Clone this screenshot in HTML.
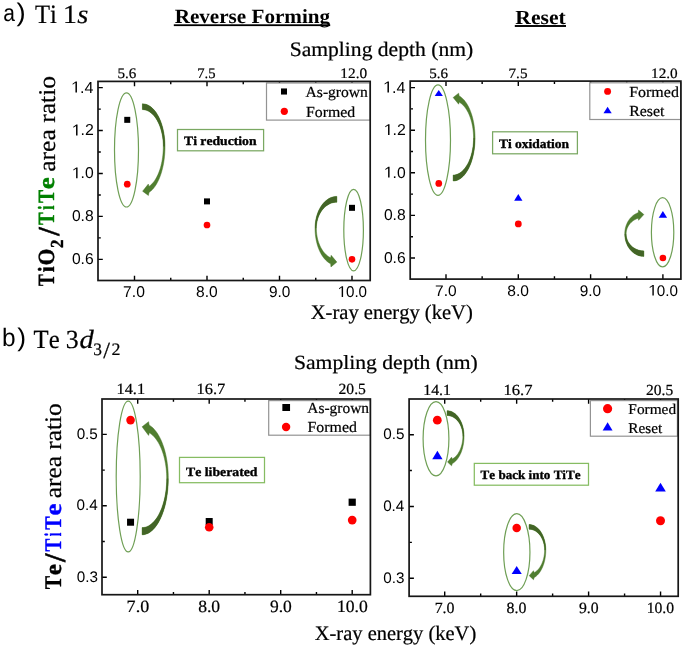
<!DOCTYPE html>
<html><head><meta charset="utf-8"><style>
html,body{margin:0;padding:0;background:#fff;}
svg{display:block;will-change:transform;}
text{font-kerning:none;font-variant-ligatures:none;}
</style></head><body>
<svg text-rendering="geometricPrecision" width="685" height="648" viewBox="0 0 685 648">
<rect width="685" height="648" fill="#fff"/>
<path d="M134.50,280.50v-4.8M134.50,81.40v4.8M207.00,280.50v-4.8M207.00,81.40v4.8M279.50,280.50v-4.8M279.50,81.40v4.8M352.00,280.50v-4.8M352.00,81.40v4.8M170.75,280.50v-2.8M170.75,81.40v2.8M243.25,280.50v-2.8M243.25,81.40v2.8M315.75,280.50v-2.8M315.75,81.40v2.8M98.00,259.33h4.8M98.00,216.41h4.8M98.00,173.49h4.8M98.00,130.57h4.8M98.00,87.65h4.8M98.00,237.87h2.8M98.00,194.95h2.8M98.00,152.03h2.8M98.00,109.11h2.8" stroke="#000" stroke-width="1.4" fill="none"/>
<path d="M446.00,279.10v-4.8M446.00,81.10v4.8M518.30,279.10v-4.8M518.30,81.10v4.8M590.60,279.10v-4.8M590.60,81.10v4.8M662.90,279.10v-4.8M662.90,81.10v4.8M482.15,279.10v-2.8M482.15,81.10v2.8M554.45,279.10v-2.8M554.45,81.10v2.8M626.75,279.10v-2.8M626.75,81.10v2.8M410.20,258.00h4.8M410.20,215.40h4.8M410.20,172.80h4.8M410.20,130.20h4.8M410.20,87.60h4.8M410.20,236.70h2.8M410.20,194.10h2.8M410.20,151.50h2.8M410.20,108.90h2.8" stroke="#000" stroke-width="1.4" fill="none"/>
<path d="M137.70,594.70v-4.8M137.70,399.00v4.8M209.20,594.70v-4.8M209.20,399.00v4.8M280.70,594.70v-4.8M280.70,399.00v4.8M352.20,594.70v-4.8M352.20,399.00v4.8M173.45,594.70v-2.8M173.45,399.00v2.8M244.95,594.70v-2.8M244.95,399.00v2.8M316.45,594.70v-2.8M316.45,399.00v2.8M102.00,577.20h4.8M102.00,505.80h4.8M102.00,434.40h4.8M102.00,541.50h2.8M102.00,470.10h2.8" stroke="#000" stroke-width="1.4" fill="none"/>
<path d="M444.70,596.30v-4.8M444.70,399.00v4.8M516.65,596.30v-4.8M516.65,399.00v4.8M588.60,596.30v-4.8M588.60,399.00v4.8M660.55,596.30v-4.8M660.55,399.00v4.8M480.68,596.30v-2.8M480.68,399.00v2.8M552.62,596.30v-2.8M552.62,399.00v2.8M624.58,596.30v-2.8M624.58,399.00v2.8M409.10,578.20h4.8M409.10,506.45h4.8M409.10,434.70h4.8M409.10,542.33h2.8M409.10,470.57h2.8" stroke="#000" stroke-width="1.4" fill="none"/>
<rect x="266.50" y="83.00" width="103.70" height="37.10" fill="#fff" stroke="#939393" stroke-width="1.2"/>
<rect x="281.00" y="88.45" width="6.0" height="6.1" fill="#000"/>
<circle cx="284.30" cy="111.30" r="3.60" fill="#f00"/>
<text transform="matrix(1.0192,0,0,1,305.56,97.00)" font-family='"Liberation Serif", serif' font-size="15.300" stroke="#000" stroke-width="0.22" stroke-linejoin="round">As-grown</text>
<text transform="matrix(1.0343,0,0,1,306.05,116.70)" font-family='"Liberation Serif", serif' font-size="15.300" stroke="#000" stroke-width="0.22" stroke-linejoin="round">Formed</text>
<rect x="589.80" y="82.80" width="91.10" height="36.70" fill="#fff" stroke="#939393" stroke-width="1.2"/>
<circle cx="607.60" cy="91.40" r="3.45" fill="#f00"/>
<path d="M607.60,106.70L611.70,113.30L603.50,113.30Z" fill="#00f"/>
<text transform="matrix(1.0450,0,0,1,629.15,96.90)" font-family='"Liberation Serif", serif' font-size="15.300" stroke="#000" stroke-width="0.22" stroke-linejoin="round">Formed</text>
<text transform="matrix(1.0364,0,0,1,629.25,116.40)" font-family='"Liberation Serif", serif' font-size="15.300" stroke="#000" stroke-width="0.22" stroke-linejoin="round">Reset</text>
<rect x="268.70" y="400.60" width="101.70" height="34.60" fill="#fff" stroke="#939393" stroke-width="1.2"/>
<rect x="282.35" y="404.00" width="7.7" height="7.0" fill="#000"/>
<circle cx="286.10" cy="427.00" r="4.20" fill="#f00"/>
<text transform="matrix(1.0077,0,0,1,307.36,413.20)" font-family='"Liberation Serif", serif' font-size="15.300" stroke="#000" stroke-width="0.22" stroke-linejoin="round">As-grown</text>
<text transform="matrix(1.0364,0,0,1,307.55,432.30)" font-family='"Liberation Serif", serif' font-size="15.300" stroke="#000" stroke-width="0.22" stroke-linejoin="round">Formed</text>
<rect x="590.40" y="400.60" width="87.00" height="35.60" fill="#fff" stroke="#939393" stroke-width="1.2"/>
<circle cx="607.60" cy="408.70" r="4.60" fill="#f00"/>
<path d="M607.60,422.20L612.55,430.60L602.65,430.60Z" fill="#00f"/>
<text transform="matrix(1.0362,0,0,1,628.37,413.80)" font-family='"Liberation Serif", serif' font-size="14.800" stroke="#000" stroke-width="0.22" stroke-linejoin="round">Formed</text>
<text transform="matrix(1.0282,0,0,1,628.37,432.60)" font-family='"Liberation Serif", serif' font-size="14.800" stroke="#000" stroke-width="0.22" stroke-linejoin="round">Reset</text>
<ellipse cx="126.50" cy="149.90" rx="12.00" ry="57.10" fill="none" stroke="#6f9f55" stroke-width="1.2"/>
<ellipse cx="353.60" cy="230.10" rx="9.80" ry="40.80" fill="none" stroke="#6f9f55" stroke-width="1.2"/>
<path d="M142.40,103.80L143.88,103.89L145.35,104.17L146.81,104.62L148.25,105.25L149.66,106.07L151.05,107.05L152.40,108.20L153.70,109.52L154.96,111.00L156.16,112.62L157.30,114.40L158.38,116.31L159.39,118.35L160.33,120.51L161.19,122.78L161.97,125.15L162.67,127.61L163.28,130.16L163.80,132.77L164.23,135.45L164.57,138.17L164.81,140.93L164.95,143.71L165.00,146.50L164.97,149.05L164.87,151.59L164.71,154.11L164.49,156.62L164.21,159.09L163.86,161.53L163.46,163.93L162.99,166.28L162.47,168.57L161.89,170.80L161.25,172.97L160.56,175.05L159.83,177.06L159.04,178.98L158.20,180.81L157.32,182.54L156.40,184.17L155.44,185.70L154.44,187.11L153.41,188.41L152.35,189.60L151.25,190.66L150.14,191.59L149.00,192.40L148.40,195.50L142.60,191.20L148.30,184.10L149.00,186.40L150.02,185.65L151.03,184.80L152.00,183.85L152.96,182.79L153.88,181.64L154.77,180.39L155.63,179.05L156.46,177.62L157.24,176.10L157.99,174.51L158.69,172.84L159.35,171.10L159.97,169.29L160.53,167.42L161.05,165.49L161.51,163.51L161.93,161.49L162.29,159.42L162.60,157.32L162.85,155.19L163.05,153.04L163.19,150.87L163.27,148.69L163.30,146.50L163.26,144.09L163.12,141.68L162.90,139.30L162.59,136.95L162.19,134.64L161.71,132.38L161.14,130.18L160.50,128.05L159.78,126.00L158.98,124.04L158.11,122.17L157.18,120.41L156.18,118.76L155.12,117.23L154.01,115.82L152.85,114.54L151.64,113.41L150.40,112.41L149.12,111.56L147.81,110.86L146.48,110.31L145.13,109.92L143.77,109.68L142.40,109.60Z" fill="#507e30"/>
<path d="M142.40,103.80L143.88,103.89L145.35,104.17L146.81,104.62L148.25,105.25L149.66,106.07L151.05,107.05L152.40,108.20L153.70,109.52L154.96,111.00L156.16,112.62L157.30,114.40L158.38,116.31L159.39,118.35L160.33,120.51L161.19,122.78L161.97,125.15L162.67,127.61L163.28,130.16L163.80,132.77L164.23,135.45L164.57,138.17L164.81,140.93L164.95,143.71L165.00,146.50L163.30,146.50L163.26,144.09L163.12,141.68L162.90,139.30L162.59,136.95L162.19,134.64L161.71,132.38L161.14,130.18L160.50,128.05L159.78,126.00L158.98,124.04L158.11,122.17L157.18,120.41L156.18,118.76L155.12,117.23L154.01,115.82L152.85,114.54L151.64,113.41L150.40,112.41L149.12,111.56L147.81,110.86L146.48,110.31L145.13,109.92L143.77,109.68L142.40,109.60Z" fill="#436427"/>
<path d="M142.40,103.80L143.88,103.89L145.35,104.17L146.81,104.62L148.25,105.25L149.66,106.07L151.05,107.05L152.40,108.20L153.70,109.52L154.96,111.00L156.16,112.62L157.30,114.40L158.38,116.31L159.39,118.35L160.33,120.51L161.19,122.78L161.97,125.15L162.67,127.61L163.28,130.16L163.80,132.77L164.23,135.45L164.57,138.17L164.81,140.93L164.95,143.71L165.00,146.50L164.97,149.05L164.87,151.59L164.71,154.11L164.49,156.62L164.21,159.09L163.86,161.53L163.46,163.93L162.99,166.28L162.47,168.57L161.89,170.80L161.25,172.97L160.56,175.05L159.83,177.06L159.04,178.98L158.20,180.81L157.32,182.54L156.40,184.17L155.44,185.70L154.44,187.11L153.41,188.41L152.35,189.60L151.25,190.66L150.14,191.59L149.00,192.40L148.40,195.50L142.60,191.20L148.30,184.10L149.00,186.40L150.02,185.65L151.03,184.80L152.00,183.85L152.96,182.79L153.88,181.64L154.77,180.39L155.63,179.05L156.46,177.62L157.24,176.10L157.99,174.51L158.69,172.84L159.35,171.10L159.97,169.29L160.53,167.42L161.05,165.49L161.51,163.51L161.93,161.49L162.29,159.42L162.60,157.32L162.85,155.19L163.05,153.04L163.19,150.87L163.27,148.69L163.30,146.50L163.26,144.09L163.12,141.68L162.90,139.30L162.59,136.95L162.19,134.64L161.71,132.38L161.14,130.18L160.50,128.05L159.78,126.00L158.98,124.04L158.11,122.17L157.18,120.41L156.18,118.76L155.12,117.23L154.01,115.82L152.85,114.54L151.64,113.41L150.40,112.41L149.12,111.56L147.81,110.86L146.48,110.31L145.13,109.92L143.77,109.68L142.40,109.60Z" fill="none" stroke="#40701f" stroke-width="0.45"/>
<path d="M336.85,196.40L335.42,196.47L334.00,196.67L332.60,197.01L331.21,197.49L329.84,198.09L328.51,198.83L327.21,199.69L325.95,200.67L324.74,201.78L323.58,202.99L322.48,204.32L321.44,205.74L320.46,207.27L319.55,208.88L318.72,210.58L317.97,212.35L317.30,214.19L316.71,216.09L316.21,218.05L315.79,220.04L315.47,222.08L315.24,224.14L315.10,226.21L315.05,228.30L315.08,230.28L315.17,232.25L315.33,234.22L315.55,236.16L315.83,238.09L316.16,239.98L316.56,241.84L317.02,243.67L317.53,245.45L318.10,247.18L318.72,248.85L319.40,250.47L320.12,252.02L320.89,253.51L321.71,254.92L322.57,256.26L323.47,257.52L324.41,258.69L325.39,259.77L326.40,260.77L327.43,261.67L328.50,262.48L329.59,263.19L330.70,263.80L330.95,266.90L336.85,262.10L331.15,255.30L330.70,257.80L329.68,257.27L328.67,256.66L327.69,255.97L326.74,255.20L325.81,254.36L324.92,253.45L324.06,252.46L323.23,251.41L322.44,250.30L321.69,249.12L320.98,247.88L320.32,246.60L319.71,245.26L319.14,243.87L318.62,242.44L318.15,240.97L317.73,239.46L317.37,237.93L317.06,236.36L316.80,234.78L316.61,233.17L316.46,231.56L316.38,229.93L316.35,228.30L316.39,226.59L316.53,224.89L316.74,223.21L317.05,221.54L317.44,219.91L317.91,218.31L318.46,216.76L319.10,215.25L319.80,213.80L320.59,212.41L321.44,211.09L322.35,209.84L323.33,208.68L324.37,207.59L325.46,206.60L326.60,205.70L327.78,204.89L329.00,204.19L330.26,203.59L331.54,203.09L332.85,202.70L334.17,202.42L335.51,202.26L336.85,202.20Z" fill="#507e30"/>
<path d="M336.85,196.40L335.42,196.47L334.00,196.67L332.60,197.01L331.21,197.49L329.84,198.09L328.51,198.83L327.21,199.69L325.95,200.67L324.74,201.78L323.58,202.99L322.48,204.32L321.44,205.74L320.46,207.27L319.55,208.88L318.72,210.58L317.97,212.35L317.30,214.19L316.71,216.09L316.21,218.05L315.79,220.04L315.47,222.08L315.24,224.14L315.10,226.21L315.05,228.30L316.35,228.30L316.39,226.59L316.53,224.89L316.74,223.21L317.05,221.54L317.44,219.91L317.91,218.31L318.46,216.76L319.10,215.25L319.80,213.80L320.59,212.41L321.44,211.09L322.35,209.84L323.33,208.68L324.37,207.59L325.46,206.60L326.60,205.70L327.78,204.89L329.00,204.19L330.26,203.59L331.54,203.09L332.85,202.70L334.17,202.42L335.51,202.26L336.85,202.20Z" fill="#436427"/>
<path d="M336.85,196.40L335.42,196.47L334.00,196.67L332.60,197.01L331.21,197.49L329.84,198.09L328.51,198.83L327.21,199.69L325.95,200.67L324.74,201.78L323.58,202.99L322.48,204.32L321.44,205.74L320.46,207.27L319.55,208.88L318.72,210.58L317.97,212.35L317.30,214.19L316.71,216.09L316.21,218.05L315.79,220.04L315.47,222.08L315.24,224.14L315.10,226.21L315.05,228.30L315.08,230.28L315.17,232.25L315.33,234.22L315.55,236.16L315.83,238.09L316.16,239.98L316.56,241.84L317.02,243.67L317.53,245.45L318.10,247.18L318.72,248.85L319.40,250.47L320.12,252.02L320.89,253.51L321.71,254.92L322.57,256.26L323.47,257.52L324.41,258.69L325.39,259.77L326.40,260.77L327.43,261.67L328.50,262.48L329.59,263.19L330.70,263.80L330.95,266.90L336.85,262.10L331.15,255.30L330.70,257.80L329.68,257.27L328.67,256.66L327.69,255.97L326.74,255.20L325.81,254.36L324.92,253.45L324.06,252.46L323.23,251.41L322.44,250.30L321.69,249.12L320.98,247.88L320.32,246.60L319.71,245.26L319.14,243.87L318.62,242.44L318.15,240.97L317.73,239.46L317.37,237.93L317.06,236.36L316.80,234.78L316.61,233.17L316.46,231.56L316.38,229.93L316.35,228.30L316.39,226.59L316.53,224.89L316.74,223.21L317.05,221.54L317.44,219.91L317.91,218.31L318.46,216.76L319.10,215.25L319.80,213.80L320.59,212.41L321.44,211.09L322.35,209.84L323.33,208.68L324.37,207.59L325.46,206.60L326.60,205.70L327.78,204.89L329.00,204.19L330.26,203.59L331.54,203.09L332.85,202.70L334.17,202.42L335.51,202.26L336.85,202.20Z" fill="none" stroke="#40701f" stroke-width="0.45"/>
<rect x="177.50" y="129.50" width="86.10" height="21.30" fill="#fff" stroke="#7aa862" stroke-width="1.25"/>
<text transform="matrix(1.0841,0,0,1,184.06,144.82)" font-family='"Liberation Serif", serif' font-size="12.600" font-weight="bold" stroke="#000" stroke-width="0.35" stroke-linejoin="round">Ti reduction</text>
<rect x="124.25" y="116.84" width="6" height="6" fill="#000"/>
<circle cx="127.25" cy="184.22" r="3.35" fill="#f00"/>
<rect x="204.00" y="198.39" width="6" height="6" fill="#000"/>
<circle cx="207.00" cy="224.99" r="3.35" fill="#f00"/>
<rect x="349.00" y="204.83" width="6" height="6" fill="#000"/>
<circle cx="352.00" cy="259.33" r="3.30" fill="#f00"/>
<ellipse cx="438.00" cy="140.10" rx="12.50" ry="55.20" fill="none" stroke="#6f9f55" stroke-width="1.2"/>
<ellipse cx="662.60" cy="232.30" rx="11.20" ry="34.60" fill="none" stroke="#6f9f55" stroke-width="1.2"/>
<path d="M453.15,181.00L454.58,180.91L456.01,180.63L457.42,180.17L458.82,179.53L460.19,178.72L461.53,177.73L462.84,176.57L464.10,175.24L465.32,173.75L466.48,172.11L467.59,170.33L468.64,168.41L469.62,166.35L470.52,164.18L471.36,161.89L472.12,159.50L472.79,157.02L473.38,154.46L473.89,151.82L474.30,149.13L474.63,146.39L474.86,143.61L475.00,140.81L475.05,138.00L475.02,135.64L474.92,133.29L474.76,130.95L474.54,128.64L474.26,126.35L473.92,124.09L473.51,121.88L473.05,119.71L472.52,117.59L471.95,115.54L471.31,113.55L470.63,111.63L469.89,109.78L469.11,108.02L468.28,106.35L467.40,104.76L466.49,103.28L465.53,101.89L464.54,100.61L463.52,99.44L462.46,98.38L461.38,97.43L460.28,96.61L459.15,95.90L458.65,93.20L453.15,97.50L458.65,104.20L459.15,102.10L460.17,102.74L461.18,103.47L462.16,104.30L463.12,105.23L464.05,106.25L464.95,107.36L465.81,108.55L466.64,109.83L467.43,111.18L468.19,112.61L468.89,114.12L469.56,115.69L470.18,117.32L470.75,119.01L471.27,120.75L471.74,122.54L472.16,124.38L472.53,126.25L472.84,128.16L473.09,130.09L473.29,132.05L473.44,134.03L473.52,136.01L473.55,138.00L473.51,140.42L473.38,142.83L473.16,145.22L472.85,147.58L472.47,149.89L472.00,152.16L471.45,154.36L470.82,156.50L470.11,158.56L469.33,160.52L468.49,162.40L467.57,164.16L466.60,165.82L465.57,167.35L464.48,168.76L463.35,170.04L462.17,171.18L460.96,172.18L459.71,173.04L458.43,173.74L457.13,174.29L455.81,174.68L454.48,174.92L453.15,175.00Z" fill="#507e30"/>
<path d="M453.15,181.00L454.58,180.91L456.01,180.63L457.42,180.17L458.82,179.53L460.19,178.72L461.53,177.73L462.84,176.57L464.10,175.24L465.32,173.75L466.48,172.11L467.59,170.33L468.64,168.41L469.62,166.35L470.52,164.18L471.36,161.89L472.12,159.50L472.79,157.02L473.38,154.46L473.89,151.82L474.30,149.13L474.63,146.39L474.86,143.61L475.00,140.81L475.05,138.00L473.55,138.00L473.51,140.42L473.38,142.83L473.16,145.22L472.85,147.58L472.47,149.89L472.00,152.16L471.45,154.36L470.82,156.50L470.11,158.56L469.33,160.52L468.49,162.40L467.57,164.16L466.60,165.82L465.57,167.35L464.48,168.76L463.35,170.04L462.17,171.18L460.96,172.18L459.71,173.04L458.43,173.74L457.13,174.29L455.81,174.68L454.48,174.92L453.15,175.00Z" fill="#436427"/>
<path d="M453.15,181.00L454.58,180.91L456.01,180.63L457.42,180.17L458.82,179.53L460.19,178.72L461.53,177.73L462.84,176.57L464.10,175.24L465.32,173.75L466.48,172.11L467.59,170.33L468.64,168.41L469.62,166.35L470.52,164.18L471.36,161.89L472.12,159.50L472.79,157.02L473.38,154.46L473.89,151.82L474.30,149.13L474.63,146.39L474.86,143.61L475.00,140.81L475.05,138.00L475.02,135.64L474.92,133.29L474.76,130.95L474.54,128.64L474.26,126.35L473.92,124.09L473.51,121.88L473.05,119.71L472.52,117.59L471.95,115.54L471.31,113.55L470.63,111.63L469.89,109.78L469.11,108.02L468.28,106.35L467.40,104.76L466.49,103.28L465.53,101.89L464.54,100.61L463.52,99.44L462.46,98.38L461.38,97.43L460.28,96.61L459.15,95.90L458.65,93.20L453.15,97.50L458.65,104.20L459.15,102.10L460.17,102.74L461.18,103.47L462.16,104.30L463.12,105.23L464.05,106.25L464.95,107.36L465.81,108.55L466.64,109.83L467.43,111.18L468.19,112.61L468.89,114.12L469.56,115.69L470.18,117.32L470.75,119.01L471.27,120.75L471.74,122.54L472.16,124.38L472.53,126.25L472.84,128.16L473.09,130.09L473.29,132.05L473.44,134.03L473.52,136.01L473.55,138.00L473.51,140.42L473.38,142.83L473.16,145.22L472.85,147.58L472.47,149.89L472.00,152.16L471.45,154.36L470.82,156.50L470.11,158.56L469.33,160.52L468.49,162.40L467.57,164.16L466.60,165.82L465.57,167.35L464.48,168.76L463.35,170.04L462.17,171.18L460.96,172.18L459.71,173.04L458.43,173.74L457.13,174.29L455.81,174.68L454.48,174.92L453.15,175.00Z" fill="none" stroke="#40701f" stroke-width="0.45"/>
<path d="M643.85,256.40L642.60,256.35L641.36,256.21L640.12,255.97L638.91,255.63L637.71,255.21L636.54,254.69L635.40,254.08L634.30,253.39L633.24,252.61L632.22,251.75L631.26,250.82L630.34,249.81L629.49,248.74L628.70,247.60L627.97,246.40L627.31,245.15L626.72,243.85L626.20,242.51L625.76,241.13L625.40,239.72L625.12,238.29L624.91,236.84L624.79,235.37L624.75,233.90L624.78,232.72L624.86,231.53L624.99,230.36L625.18,229.20L625.42,228.04L625.72,226.91L626.06,225.80L626.46,224.70L626.90,223.64L627.40,222.60L627.94,221.60L628.52,220.63L629.15,219.70L629.82,218.81L630.53,217.96L631.28,217.15L632.06,216.40L632.88,215.69L633.73,215.04L634.61,214.44L635.51,213.89L636.44,213.40L637.38,212.97L638.35,212.60L638.55,210.10L643.85,214.50L638.55,220.30L638.35,218.20L637.48,218.49L636.62,218.82L635.79,219.19L634.98,219.61L634.19,220.06L633.43,220.55L632.69,221.08L631.99,221.64L631.32,222.23L630.68,222.86L630.08,223.52L629.52,224.20L629.00,224.92L628.51,225.65L628.07,226.41L627.68,227.19L627.32,227.99L627.01,228.80L626.75,229.63L626.54,230.47L626.37,231.32L626.25,232.18L626.17,233.04L626.15,233.90L626.19,235.01L626.30,236.12L626.49,237.22L626.75,238.30L627.09,239.36L627.50,240.41L627.98,241.42L628.52,242.40L629.13,243.34L629.81,244.25L630.54,245.11L631.33,245.92L632.18,246.68L633.07,247.39L634.02,248.03L635.00,248.62L636.02,249.15L637.08,249.61L638.16,250.00L639.27,250.32L640.40,250.57L641.54,250.75L642.69,250.86L643.85,250.90Z" fill="#507e30"/>
<path d="M643.85,256.40L642.60,256.35L641.36,256.21L640.12,255.97L638.91,255.63L637.71,255.21L636.54,254.69L635.40,254.08L634.30,253.39L633.24,252.61L632.22,251.75L631.26,250.82L630.34,249.81L629.49,248.74L628.70,247.60L627.97,246.40L627.31,245.15L626.72,243.85L626.20,242.51L625.76,241.13L625.40,239.72L625.12,238.29L624.91,236.84L624.79,235.37L624.75,233.90L626.15,233.90L626.19,235.01L626.30,236.12L626.49,237.22L626.75,238.30L627.09,239.36L627.50,240.41L627.98,241.42L628.52,242.40L629.13,243.34L629.81,244.25L630.54,245.11L631.33,245.92L632.18,246.68L633.07,247.39L634.02,248.03L635.00,248.62L636.02,249.15L637.08,249.61L638.16,250.00L639.27,250.32L640.40,250.57L641.54,250.75L642.69,250.86L643.85,250.90Z" fill="#436427"/>
<path d="M643.85,256.40L642.60,256.35L641.36,256.21L640.12,255.97L638.91,255.63L637.71,255.21L636.54,254.69L635.40,254.08L634.30,253.39L633.24,252.61L632.22,251.75L631.26,250.82L630.34,249.81L629.49,248.74L628.70,247.60L627.97,246.40L627.31,245.15L626.72,243.85L626.20,242.51L625.76,241.13L625.40,239.72L625.12,238.29L624.91,236.84L624.79,235.37L624.75,233.90L624.78,232.72L624.86,231.53L624.99,230.36L625.18,229.20L625.42,228.04L625.72,226.91L626.06,225.80L626.46,224.70L626.90,223.64L627.40,222.60L627.94,221.60L628.52,220.63L629.15,219.70L629.82,218.81L630.53,217.96L631.28,217.15L632.06,216.40L632.88,215.69L633.73,215.04L634.61,214.44L635.51,213.89L636.44,213.40L637.38,212.97L638.35,212.60L638.55,210.10L643.85,214.50L638.55,220.30L638.35,218.20L637.48,218.49L636.62,218.82L635.79,219.19L634.98,219.61L634.19,220.06L633.43,220.55L632.69,221.08L631.99,221.64L631.32,222.23L630.68,222.86L630.08,223.52L629.52,224.20L629.00,224.92L628.51,225.65L628.07,226.41L627.68,227.19L627.32,227.99L627.01,228.80L626.75,229.63L626.54,230.47L626.37,231.32L626.25,232.18L626.17,233.04L626.15,233.90L626.19,235.01L626.30,236.12L626.49,237.22L626.75,238.30L627.09,239.36L627.50,240.41L627.98,241.42L628.52,242.40L629.13,243.34L629.81,244.25L630.54,245.11L631.33,245.92L632.18,246.68L633.07,247.39L634.02,248.03L635.00,248.62L636.02,249.15L637.08,249.61L638.16,250.00L639.27,250.32L640.40,250.57L641.54,250.75L642.69,250.86L643.85,250.90Z" fill="none" stroke="#40701f" stroke-width="0.45"/>
<rect x="492.60" y="131.80" width="84.80" height="22.00" fill="#fff" stroke="#7aa862" stroke-width="1.25"/>
<text transform="matrix(1.0464,0,0,1,498.96,147.92)" font-family='"Liberation Serif", serif' font-size="12.905" font-weight="bold" stroke="#000" stroke-width="0.35" stroke-linejoin="round">Ti oxidation</text>
<path d="M438.77,90.00L442.87,96.00L434.67,96.00Z" fill="#00f"/>
<circle cx="438.77" cy="183.45" r="3.35" fill="#f00"/>
<path d="M518.30,193.90L522.45,200.80L514.15,200.80Z" fill="#00f"/>
<circle cx="518.30" cy="223.92" r="3.40" fill="#f00"/>
<path d="M662.90,211.00L667.10,217.80L658.70,217.80Z" fill="#00f"/>
<circle cx="662.90" cy="258.00" r="3.30" fill="#f00"/>
<ellipse cx="128.20" cy="476.50" rx="12.00" ry="75.40" fill="none" stroke="#6f9f55" stroke-width="1.2"/>
<path d="M142.10,534.80L143.81,534.68L145.52,534.32L147.21,533.72L148.88,532.88L150.52,531.81L152.13,530.51L153.69,528.99L155.20,527.26L156.66,525.31L158.05,523.17L159.37,520.83L160.63,518.31L161.80,515.62L162.89,512.77L163.88,509.78L164.79,506.65L165.60,503.40L166.31,500.05L166.91,496.60L167.41,493.07L167.80,489.48L168.08,485.85L168.24,482.18L168.30,478.50L168.26,475.49L168.15,472.50L167.95,469.52L167.69,466.56L167.34,463.64L166.93,460.77L166.44,457.95L165.88,455.18L165.25,452.49L164.55,449.87L163.78,447.34L162.95,444.89L162.07,442.55L161.12,440.31L160.11,438.19L159.06,436.18L157.95,434.29L156.80,432.54L155.60,430.92L154.37,429.44L153.09,428.11L151.79,426.92L150.46,425.88L149.10,425.00L148.60,421.70L142.10,426.80L148.60,435.40L149.30,432.80L150.54,433.61L151.75,434.54L152.94,435.60L154.09,436.77L155.22,438.07L156.30,439.48L157.35,441.00L158.35,442.62L159.31,444.35L160.22,446.17L161.07,448.08L161.88,450.08L162.63,452.16L163.32,454.31L163.95,456.53L164.52,458.81L165.02,461.15L165.46,463.54L165.84,465.97L166.15,468.43L166.39,470.92L166.56,473.44L166.67,475.96L166.70,478.50L166.65,481.71L166.49,484.91L166.23,488.08L165.86,491.21L165.39,494.28L164.83,497.29L164.16,500.22L163.40,503.05L162.55,505.78L161.62,508.39L160.60,510.87L159.49,513.22L158.32,515.42L157.08,517.45L155.77,519.33L154.40,521.02L152.98,522.54L151.51,523.86L150.01,524.99L148.47,525.93L146.90,526.66L145.31,527.18L143.71,527.49L142.10,527.60Z" fill="#507e30"/>
<path d="M142.10,534.80L143.81,534.68L145.52,534.32L147.21,533.72L148.88,532.88L150.52,531.81L152.13,530.51L153.69,528.99L155.20,527.26L156.66,525.31L158.05,523.17L159.37,520.83L160.63,518.31L161.80,515.62L162.89,512.77L163.88,509.78L164.79,506.65L165.60,503.40L166.31,500.05L166.91,496.60L167.41,493.07L167.80,489.48L168.08,485.85L168.24,482.18L168.30,478.50L166.70,478.50L166.65,481.71L166.49,484.91L166.23,488.08L165.86,491.21L165.39,494.28L164.83,497.29L164.16,500.22L163.40,503.05L162.55,505.78L161.62,508.39L160.60,510.87L159.49,513.22L158.32,515.42L157.08,517.45L155.77,519.33L154.40,521.02L152.98,522.54L151.51,523.86L150.01,524.99L148.47,525.93L146.90,526.66L145.31,527.18L143.71,527.49L142.10,527.60Z" fill="#436427"/>
<path d="M142.10,534.80L143.81,534.68L145.52,534.32L147.21,533.72L148.88,532.88L150.52,531.81L152.13,530.51L153.69,528.99L155.20,527.26L156.66,525.31L158.05,523.17L159.37,520.83L160.63,518.31L161.80,515.62L162.89,512.77L163.88,509.78L164.79,506.65L165.60,503.40L166.31,500.05L166.91,496.60L167.41,493.07L167.80,489.48L168.08,485.85L168.24,482.18L168.30,478.50L168.26,475.49L168.15,472.50L167.95,469.52L167.69,466.56L167.34,463.64L166.93,460.77L166.44,457.95L165.88,455.18L165.25,452.49L164.55,449.87L163.78,447.34L162.95,444.89L162.07,442.55L161.12,440.31L160.11,438.19L159.06,436.18L157.95,434.29L156.80,432.54L155.60,430.92L154.37,429.44L153.09,428.11L151.79,426.92L150.46,425.88L149.10,425.00L148.60,421.70L142.10,426.80L148.60,435.40L149.30,432.80L150.54,433.61L151.75,434.54L152.94,435.60L154.09,436.77L155.22,438.07L156.30,439.48L157.35,441.00L158.35,442.62L159.31,444.35L160.22,446.17L161.07,448.08L161.88,450.08L162.63,452.16L163.32,454.31L163.95,456.53L164.52,458.81L165.02,461.15L165.46,463.54L165.84,465.97L166.15,468.43L166.39,470.92L166.56,473.44L166.67,475.96L166.70,478.50L166.65,481.71L166.49,484.91L166.23,488.08L165.86,491.21L165.39,494.28L164.83,497.29L164.16,500.22L163.40,503.05L162.55,505.78L161.62,508.39L160.60,510.87L159.49,513.22L158.32,515.42L157.08,517.45L155.77,519.33L154.40,521.02L152.98,522.54L151.51,523.86L150.01,524.99L148.47,525.93L146.90,526.66L145.31,527.18L143.71,527.49L142.10,527.60Z" fill="none" stroke="#40701f" stroke-width="0.45"/>
<rect x="179.50" y="457.40" width="85.00" height="25.30" fill="#fff" stroke="#86bc62" stroke-width="1.25"/>
<text transform="matrix(1.0784,0,0,1,186.06,475.82)" font-family='"Liberation Serif", serif' font-size="12.752" font-weight="bold" stroke="#000" stroke-width="0.35" stroke-linejoin="round">Te liberated</text>
<circle cx="130.55" cy="420.12" r="4.30" fill="#f00"/>
<rect x="127.05" y="518.72" width="7" height="7" fill="#000"/>
<rect x="205.70" y="518.01" width="7" height="7" fill="#000"/>
<circle cx="209.20" cy="527.22" r="4.30" fill="#f00"/>
<rect x="348.60" y="498.63" width="7.2" height="7.2" fill="#000"/>
<circle cx="352.20" cy="520.08" r="4.35" fill="#f00"/>
<ellipse cx="436.00" cy="438.80" rx="12.90" ry="37.10" fill="none" stroke="#6f9f55" stroke-width="1.2"/>
<ellipse cx="516.80" cy="552.20" rx="13.15" ry="38.50" fill="none" stroke="#6f9f55" stroke-width="1.2"/>
<path d="M447.05,410.70L448.16,410.75L449.27,410.92L450.37,411.19L451.45,411.57L452.51,412.05L453.56,412.64L454.57,413.33L455.55,414.12L456.49,415.00L457.40,415.97L458.26,417.03L459.07,418.17L459.83,419.39L460.54,420.68L461.18,422.03L461.77,423.45L462.30,424.92L462.76,426.44L463.15,428.00L463.47,429.60L463.72,431.23L463.90,432.87L464.01,434.53L464.05,436.20L464.03,437.71L463.96,439.21L463.84,440.71L463.68,442.19L463.47,443.66L463.22,445.10L462.92,446.53L462.58,447.92L462.20,449.28L461.77,450.61L461.31,451.89L460.80,453.14L460.26,454.33L459.68,455.48L459.07,456.57L458.42,457.61L457.75,458.59L457.04,459.51L456.31,460.36L455.55,461.15L454.77,461.87L453.96,462.52L453.14,463.10L452.30,463.60L451.55,465.80L447.55,462.10L451.55,457.20L452.30,459.00L453.06,458.56L453.80,458.06L454.52,457.50L455.23,456.88L455.91,456.21L456.57,455.49L457.21,454.72L457.81,453.90L458.39,453.03L458.94,452.12L459.46,451.16L459.95,450.17L460.40,449.14L460.81,448.07L461.19,446.98L461.54,445.85L461.84,444.70L462.11,443.53L462.33,442.34L462.52,441.13L462.66,439.91L462.77,438.68L462.83,437.44L462.85,436.20L462.82,434.85L462.71,433.50L462.55,432.16L462.31,430.84L462.01,429.55L461.65,428.28L461.22,427.04L460.73,425.85L460.19,424.70L459.58,423.60L458.93,422.55L458.22,421.56L457.47,420.64L456.67,419.78L455.83,418.99L454.95,418.27L454.04,417.63L453.10,417.08L452.13,416.60L451.14,416.21L450.13,415.90L449.11,415.68L448.08,415.54L447.05,415.50Z" fill="#507e30"/>
<path d="M447.05,410.70L448.16,410.75L449.27,410.92L450.37,411.19L451.45,411.57L452.51,412.05L453.56,412.64L454.57,413.33L455.55,414.12L456.49,415.00L457.40,415.97L458.26,417.03L459.07,418.17L459.83,419.39L460.54,420.68L461.18,422.03L461.77,423.45L462.30,424.92L462.76,426.44L463.15,428.00L463.47,429.60L463.72,431.23L463.90,432.87L464.01,434.53L464.05,436.20L462.85,436.20L462.82,434.85L462.71,433.50L462.55,432.16L462.31,430.84L462.01,429.55L461.65,428.28L461.22,427.04L460.73,425.85L460.19,424.70L459.58,423.60L458.93,422.55L458.22,421.56L457.47,420.64L456.67,419.78L455.83,418.99L454.95,418.27L454.04,417.63L453.10,417.08L452.13,416.60L451.14,416.21L450.13,415.90L449.11,415.68L448.08,415.54L447.05,415.50Z" fill="#436427"/>
<path d="M447.05,410.70L448.16,410.75L449.27,410.92L450.37,411.19L451.45,411.57L452.51,412.05L453.56,412.64L454.57,413.33L455.55,414.12L456.49,415.00L457.40,415.97L458.26,417.03L459.07,418.17L459.83,419.39L460.54,420.68L461.18,422.03L461.77,423.45L462.30,424.92L462.76,426.44L463.15,428.00L463.47,429.60L463.72,431.23L463.90,432.87L464.01,434.53L464.05,436.20L464.03,437.71L463.96,439.21L463.84,440.71L463.68,442.19L463.47,443.66L463.22,445.10L462.92,446.53L462.58,447.92L462.20,449.28L461.77,450.61L461.31,451.89L460.80,453.14L460.26,454.33L459.68,455.48L459.07,456.57L458.42,457.61L457.75,458.59L457.04,459.51L456.31,460.36L455.55,461.15L454.77,461.87L453.96,462.52L453.14,463.10L452.30,463.60L451.55,465.80L447.55,462.10L451.55,457.20L452.30,459.00L453.06,458.56L453.80,458.06L454.52,457.50L455.23,456.88L455.91,456.21L456.57,455.49L457.21,454.72L457.81,453.90L458.39,453.03L458.94,452.12L459.46,451.16L459.95,450.17L460.40,449.14L460.81,448.07L461.19,446.98L461.54,445.85L461.84,444.70L462.11,443.53L462.33,442.34L462.52,441.13L462.66,439.91L462.77,438.68L462.83,437.44L462.85,436.20L462.82,434.85L462.71,433.50L462.55,432.16L462.31,430.84L462.01,429.55L461.65,428.28L461.22,427.04L460.73,425.85L460.19,424.70L459.58,423.60L458.93,422.55L458.22,421.56L457.47,420.64L456.67,419.78L455.83,418.99L454.95,418.27L454.04,417.63L453.10,417.08L452.13,416.60L451.14,416.21L450.13,415.90L449.11,415.68L448.08,415.54L447.05,415.50Z" fill="none" stroke="#40701f" stroke-width="0.45"/>
<path d="M529.00,524.50L530.10,524.55L531.19,524.72L532.28,524.99L533.35,525.37L534.40,525.86L535.43,526.45L536.43,527.14L537.40,527.93L538.33,528.81L539.23,529.79L540.08,530.85L540.88,532.00L541.63,533.22L542.33,534.52L542.97,535.88L543.55,537.30L544.07,538.78L544.52,540.30L544.91,541.87L545.23,543.47L545.48,545.11L545.66,546.76L545.76,548.43L545.80,550.10L545.78,551.61L545.71,553.11L545.59,554.61L545.43,556.09L545.23,557.55L544.98,559.00L544.69,560.42L544.35,561.82L543.97,563.18L543.55,564.50L543.09,565.79L542.59,567.03L542.06,568.23L541.49,569.37L540.88,570.47L540.25,571.51L539.58,572.49L538.88,573.41L538.16,574.26L537.41,575.05L536.63,575.77L535.84,576.42L535.03,577.00L534.20,577.50L533.50,579.70L529.20,575.70L533.50,570.70L534.20,572.70L534.95,572.26L535.68,571.76L536.39,571.21L537.09,570.60L537.76,569.93L538.41,569.22L539.04,568.45L539.64,567.64L540.21,566.78L540.75,565.87L541.26,564.92L541.74,563.94L542.18,562.92L542.59,561.86L542.97,560.78L543.31,559.66L543.61,558.52L543.87,557.36L544.09,556.18L544.27,554.98L544.42,553.77L544.52,552.55L544.58,551.33L544.60,550.10L544.57,548.73L544.47,547.37L544.30,546.02L544.07,544.69L543.77,543.38L543.41,542.10L542.99,540.86L542.51,539.65L541.97,538.49L541.38,537.38L540.73,536.32L540.03,535.32L539.29,534.39L538.50,533.52L537.67,532.72L536.80,532.00L535.90,531.36L534.97,530.79L534.01,530.31L533.04,529.91L532.04,529.60L531.04,529.38L530.02,529.24L529.00,529.20Z" fill="#507e30"/>
<path d="M529.00,524.50L530.10,524.55L531.19,524.72L532.28,524.99L533.35,525.37L534.40,525.86L535.43,526.45L536.43,527.14L537.40,527.93L538.33,528.81L539.23,529.79L540.08,530.85L540.88,532.00L541.63,533.22L542.33,534.52L542.97,535.88L543.55,537.30L544.07,538.78L544.52,540.30L544.91,541.87L545.23,543.47L545.48,545.11L545.66,546.76L545.76,548.43L545.80,550.10L544.60,550.10L544.57,548.73L544.47,547.37L544.30,546.02L544.07,544.69L543.77,543.38L543.41,542.10L542.99,540.86L542.51,539.65L541.97,538.49L541.38,537.38L540.73,536.32L540.03,535.32L539.29,534.39L538.50,533.52L537.67,532.72L536.80,532.00L535.90,531.36L534.97,530.79L534.01,530.31L533.04,529.91L532.04,529.60L531.04,529.38L530.02,529.24L529.00,529.20Z" fill="#436427"/>
<path d="M529.00,524.50L530.10,524.55L531.19,524.72L532.28,524.99L533.35,525.37L534.40,525.86L535.43,526.45L536.43,527.14L537.40,527.93L538.33,528.81L539.23,529.79L540.08,530.85L540.88,532.00L541.63,533.22L542.33,534.52L542.97,535.88L543.55,537.30L544.07,538.78L544.52,540.30L544.91,541.87L545.23,543.47L545.48,545.11L545.66,546.76L545.76,548.43L545.80,550.10L545.78,551.61L545.71,553.11L545.59,554.61L545.43,556.09L545.23,557.55L544.98,559.00L544.69,560.42L544.35,561.82L543.97,563.18L543.55,564.50L543.09,565.79L542.59,567.03L542.06,568.23L541.49,569.37L540.88,570.47L540.25,571.51L539.58,572.49L538.88,573.41L538.16,574.26L537.41,575.05L536.63,575.77L535.84,576.42L535.03,577.00L534.20,577.50L533.50,579.70L529.20,575.70L533.50,570.70L534.20,572.70L534.95,572.26L535.68,571.76L536.39,571.21L537.09,570.60L537.76,569.93L538.41,569.22L539.04,568.45L539.64,567.64L540.21,566.78L540.75,565.87L541.26,564.92L541.74,563.94L542.18,562.92L542.59,561.86L542.97,560.78L543.31,559.66L543.61,558.52L543.87,557.36L544.09,556.18L544.27,554.98L544.42,553.77L544.52,552.55L544.58,551.33L544.60,550.10L544.57,548.73L544.47,547.37L544.30,546.02L544.07,544.69L543.77,543.38L543.41,542.10L542.99,540.86L542.51,539.65L541.97,538.49L541.38,537.38L540.73,536.32L540.03,535.32L539.29,534.39L538.50,533.52L537.67,532.72L536.80,532.00L535.90,531.36L534.97,530.79L534.01,530.31L533.04,529.91L532.04,529.60L531.04,529.38L530.02,529.24L529.00,529.20Z" fill="none" stroke="#40701f" stroke-width="0.45"/>
<rect x="474.30" y="463.40" width="114.20" height="21.80" fill="#fff" stroke="#86bc62" stroke-width="1.25"/>
<text transform="matrix(1.0264,0,0,1,480.57,479.12)" font-family='"Liberation Serif", serif' font-size="12.752" font-weight="bold" stroke="#000" stroke-width="0.35" stroke-linejoin="round">Te back into TiTe</text>
<circle cx="437.30" cy="420.20" r="4.40" fill="#f00"/>
<path d="M437.40,450.70L442.55,459.30L432.25,459.30Z" fill="#00f"/>
<circle cx="516.70" cy="527.90" r="4.25" fill="#f00"/>
<path d="M516.70,565.90L521.75,574.10L511.65,574.10Z" fill="#00f"/>
<path d="M660.50,482.80L665.80,491.50L655.20,491.50Z" fill="#00f"/>
<circle cx="660.50" cy="520.70" r="4.50" fill="#f00"/>
<rect x="98.00" y="81.40" width="272.20" height="199.10" fill="none" stroke="#161616" stroke-width="1.7"/>
<rect x="410.20" y="81.10" width="270.70" height="198.00" fill="none" stroke="#161616" stroke-width="1.7"/>
<rect x="102.00" y="399.00" width="268.40" height="195.70" fill="none" stroke="#161616" stroke-width="1.7"/>
<rect x="409.10" y="399.00" width="269.10" height="197.30" fill="none" stroke="#161616" stroke-width="1.7"/>
<text transform="matrix(0.8793,0,0,1,3.21,21.07)" font-family='"Liberation Sans", sans-serif' font-size="23.912">a</text>
<text transform="matrix(1.0823,0,0,1,16.44,21.33)" font-family='"Liberation Sans", sans-serif' font-size="25.439">)</text>
<text transform="matrix(0.9282,0,0,1,34.96,23.49)" font-family='"Liberation Serif", serif' font-size="26.543" stroke="#000" stroke-width="0.22" stroke-linejoin="round">Ti</text>
<text transform="matrix(1.0466,0,0,1,62.97,23.49)" font-family='"Liberation Serif", serif' font-size="26.543" stroke="#000" stroke-width="0.22" stroke-linejoin="round">1</text>
<text transform="matrix(1.0737,0,0,1,77.26,23.49)" font-family='"Liberation Serif", serif' font-size="26.543" font-style="italic" stroke="#000" stroke-width="0.22" stroke-linejoin="round">s</text>
<text transform="matrix(1.0494,0,0,1,174.64,23.00)" font-family='"Liberation Serif", serif' font-size="20.159" font-weight="bold">Reverse Forming</text>
<rect x="173.8" y="24.3" width="156.4" height="1.8" fill="#000"/>
<text transform="matrix(1.0795,0,0,1,515.33,23.70)" font-family='"Liberation Serif", serif' font-size="20.007" font-weight="bold">Reset</text>
<rect x="514.8" y="25.05" width="51.2" height="1.9" fill="#000"/>
<text transform="matrix(1.0531,0,0,1,289.67,55.79)" font-family='"Liberation Serif", serif' font-size="20.510" stroke="#000" stroke-width="0.22" stroke-linejoin="round">Sampling depth (nm)</text>
<text transform="matrix(0.9909,0,0,1,310.76,319.49)" font-family='"Liberation Serif", serif' font-size="20.740" stroke="#000" stroke-width="0.22" stroke-linejoin="round">X-ray energy (keV)</text>
<text transform="matrix(1.0385,0,0,1,117.43,77.95)" font-family='"Liberation Serif", serif' font-size="14.566" stroke="#000" stroke-width="0.22" stroke-linejoin="round">5.6</text>
<text transform="matrix(1.0061,0,0,1,197.24,77.95)" font-family='"Liberation Serif", serif' font-size="14.566" stroke="#000" stroke-width="0.22" stroke-linejoin="round">7.5</text>
<text transform="matrix(1.0517,0,0,1,340.36,77.95)" font-family='"Liberation Serif", serif' font-size="14.566" stroke="#000" stroke-width="0.22" stroke-linejoin="round">12.0</text>
<text transform="matrix(1.0544,0,0,1,429.24,77.75)" font-family='"Liberation Serif", serif' font-size="14.265" stroke="#000" stroke-width="0.22" stroke-linejoin="round">5.6</text>
<text transform="matrix(1.0640,0,0,1,508.51,77.75)" font-family='"Liberation Serif", serif' font-size="14.265" stroke="#000" stroke-width="0.22" stroke-linejoin="round">7.5</text>
<text transform="matrix(1.0696,0,0,1,651.07,77.75)" font-family='"Liberation Serif", serif' font-size="14.265" stroke="#000" stroke-width="0.22" stroke-linejoin="round">12.0</text>
<g transform="matrix(1.0000,0,0,1,71.04,92.55)"><text font-family='"Liberation Sans", sans-serif' font-size="16.134"> .4</text><path transform="matrix(0.007878,0,0,-0.007878,0.000,0)" d="M750,0L750,1409L595,1409L200,1130L200,1000L560,1230L560,0Z"/></g>
<g transform="matrix(1.0000,0,0,1,71.70,135.47)"><text font-family='"Liberation Sans", sans-serif' font-size="15.897"> .2</text><path transform="matrix(0.007762,0,0,-0.007762,0.000,0)" d="M750,0L750,1409L595,1409L200,1130L200,1000L560,1230L560,0Z"/></g>
<g transform="matrix(1.0000,0,0,1,71.82,178.24)"><text font-family='"Liberation Sans", sans-serif' font-size="15.678"> .0</text><path transform="matrix(0.007655,0,0,-0.007655,0.000,0)" d="M750,0L750,1409L595,1409L200,1130L200,1000L560,1230L560,0Z"/></g>
<g transform="matrix(1.0000,0,0,1,71.89,221.16)"><text font-family='"Liberation Sans", sans-serif' font-size="15.678">0.8</text></g>
<g transform="matrix(1.0000,0,0,1,71.89,264.08)"><text font-family='"Liberation Sans", sans-serif' font-size="15.678">0.6</text></g>
<g transform="matrix(1.0000,0,0,1,383.04,92.50)"><text font-family='"Liberation Sans", sans-serif' font-size="16.134"> .4</text><path transform="matrix(0.007878,0,0,-0.007878,0.000,0)" d="M750,0L750,1409L595,1409L200,1130L200,1000L560,1230L560,0Z"/></g>
<g transform="matrix(1.0000,0,0,1,383.70,135.10)"><text font-family='"Liberation Sans", sans-serif' font-size="15.897"> .2</text><path transform="matrix(0.007762,0,0,-0.007762,0.000,0)" d="M750,0L750,1409L595,1409L200,1130L200,1000L560,1230L560,0Z"/></g>
<g transform="matrix(1.0000,0,0,1,383.82,177.55)"><text font-family='"Liberation Sans", sans-serif' font-size="15.678"> .0</text><path transform="matrix(0.007655,0,0,-0.007655,0.000,0)" d="M750,0L750,1409L595,1409L200,1130L200,1000L560,1230L560,0Z"/></g>
<g transform="matrix(1.0000,0,0,1,383.89,220.15)"><text font-family='"Liberation Sans", sans-serif' font-size="15.678">0.8</text></g>
<g transform="matrix(1.0000,0,0,1,383.89,262.75)"><text font-family='"Liberation Sans", sans-serif' font-size="15.678">0.6</text></g>
<g transform="matrix(1.0011,0,0,1,123.10,296.95)"><text font-family='"Liberation Sans", sans-serif' font-size="15.678">7.0</text></g>
<g transform="matrix(0.9951,0,0,1,196.12,296.95)"><text font-family='"Liberation Sans", sans-serif' font-size="15.678">8.0</text></g>
<g transform="matrix(0.9830,0,0,1,268.88,296.95)"><text font-family='"Liberation Sans", sans-serif' font-size="15.678">9.0</text></g>
<g transform="matrix(0.9693,0,0,1,337.52,296.95)"><text font-family='"Liberation Sans", sans-serif' font-size="15.678"> 0.0</text><path transform="matrix(0.007655,0,0,-0.007655,0.000,0)" d="M750,0L750,1409L595,1409L200,1130L200,1000L560,1230L560,0Z"/></g>
<g transform="matrix(1.0095,0,0,1,435.10,295.55)"><text font-family='"Liberation Sans", sans-serif' font-size="15.395">7.0</text></g>
<g transform="matrix(1.0134,0,0,1,507.22,295.55)"><text font-family='"Liberation Sans", sans-serif' font-size="15.395">8.0</text></g>
<g transform="matrix(1.0011,0,0,1,579.68,295.55)"><text font-family='"Liberation Sans", sans-serif' font-size="15.395">9.0</text></g>
<g transform="matrix(0.9907,0,0,1,648.21,295.55)"><text font-family='"Liberation Sans", sans-serif' font-size="15.395"> 0.0</text><path transform="matrix(0.007517,0,0,-0.007517,0.000,0)" d="M750,0L750,1409L595,1409L200,1130L200,1000L560,1230L560,0Z"/></g>
<text transform="matrix(0,-0.7583,1,0,54.40,286.08)" font-family='"Liberation Serif", serif' font-size="23.213" font-weight="bold" stroke="#000" stroke-width="0.4" stroke-linejoin="round">T</text>
<text transform="matrix(0,-0.9108,1,0,54.40,272.36)" font-family='"Liberation Serif", serif' font-size="23.213" font-weight="bold" stroke="#000" stroke-width="0.4" stroke-linejoin="round">i</text>
<text transform="matrix(0,-0.9184,1,0,54.40,265.14)" font-family='"Liberation Serif", serif' font-size="23.213" font-weight="bold" stroke="#000" stroke-width="0.4" stroke-linejoin="round">O</text>
<text transform="matrix(0,-0.9229,1,0,62.60,248.11)" font-family='"Liberation Serif", serif' font-size="18.275" font-weight="bold" stroke="#000" stroke-width="0.4" stroke-linejoin="round">2</text>
<text transform="matrix(0,-1.0121,1,0,58.50,235.80)" font-family='"Liberation Serif", serif' font-size="30.518" font-weight="bold" stroke="#000" stroke-width="0.4" stroke-linejoin="round">/</text>
<text transform="matrix(0,-0.8193,1,0,54.40,224.90)" font-family='"Liberation Serif", serif' font-size="23.213" font-weight="bold" fill="#008000" stroke="#008000" stroke-width="0.4" stroke-linejoin="round">T</text>
<text transform="matrix(0,-0.6429,1,0,54.40,209.73)" font-family='"Liberation Serif", serif' font-size="23.213" font-weight="bold" fill="#008000" stroke="#008000" stroke-width="0.4" stroke-linejoin="round">i</text>
<text transform="matrix(0,-0.8531,1,0,54.40,203.01)" font-family='"Liberation Serif", serif' font-size="23.213" font-weight="bold" fill="#008000" stroke="#008000" stroke-width="0.4" stroke-linejoin="round">T</text>
<text transform="matrix(0,-1.1601,1,0,54.28,189.33)" font-family='"Liberation Serif", serif' font-size="23.358" font-weight="bold" fill="#008000" stroke="#008000" stroke-width="0.4" stroke-linejoin="round">e</text>
<text transform="matrix(0,-1.0685,1,0,54.56,171.79)" font-family='"Liberation Serif", serif' font-size="23.966" stroke="#000" stroke-width="0.22" stroke-linejoin="round">area ratio</text>
<text transform="matrix(0.9763,0,0,1,1.92,346.16)" font-family='"Liberation Sans", sans-serif' font-size="25.055">b</text>
<text transform="matrix(1.0378,0,0,1,17.35,346.43)" font-family='"Liberation Sans", sans-serif' font-size="25.439">)</text>
<text transform="matrix(0.9426,0,0,1,33.56,348.39)" font-family='"Liberation Serif", serif' font-size="26.238" stroke="#000" stroke-width="0.22" stroke-linejoin="round">Te</text>
<text transform="matrix(0.9854,0,0,1,65.67,348.39)" font-family='"Liberation Serif", serif' font-size="26.238" stroke="#000" stroke-width="0.22" stroke-linejoin="round">3</text>
<text transform="matrix(1.0881,0,0,1,79.45,348.39)" font-family='"Liberation Serif", serif' font-size="26.238" font-style="italic" stroke="#000" stroke-width="0.22" stroke-linejoin="round">d</text>
<text transform="matrix(0.9914,0,0,1,93.28,354.72)" font-family='"Liberation Serif", serif' font-size="17.533" stroke="#000" stroke-width="0.22" stroke-linejoin="round">3</text>
<text transform="matrix(1.0458,0,0,1,103.31,357.97)" font-family='"Liberation Serif", serif' font-size="22.991" stroke="#000" stroke-width="0.22" stroke-linejoin="round">/</text>
<text transform="matrix(1.0215,0,0,1,111.42,354.72)" font-family='"Liberation Serif", serif' font-size="17.533" stroke="#000" stroke-width="0.22" stroke-linejoin="round">2</text>
<text transform="matrix(1.0789,0,0,1,293.96,368.89)" font-family='"Liberation Serif", serif' font-size="20.063" stroke="#000" stroke-width="0.22" stroke-linejoin="round">Sampling depth (nm)</text>
<text transform="matrix(0.9951,0,0,1,314.76,640.29)" font-family='"Liberation Serif", serif' font-size="20.587" stroke="#000" stroke-width="0.22" stroke-linejoin="round">X-ray energy (keV)</text>
<text transform="matrix(1.0494,0,0,1,116.47,393.79)" font-family='"Liberation Serif", serif' font-size="15.572" stroke="#000" stroke-width="0.22" stroke-linejoin="round">14.1</text>
<text transform="matrix(1.0569,0,0,1,196.56,393.79)" font-family='"Liberation Serif", serif' font-size="15.572" stroke="#000" stroke-width="0.22" stroke-linejoin="round">16.7</text>
<text transform="matrix(1.0047,0,0,1,338.52,393.79)" font-family='"Liberation Serif", serif' font-size="15.572" stroke="#000" stroke-width="0.22" stroke-linejoin="round">20.5</text>
<text transform="matrix(1.0273,0,0,1,423.22,394.69)" font-family='"Liberation Serif", serif' font-size="15.421" stroke="#000" stroke-width="0.22" stroke-linejoin="round">14.1</text>
<text transform="matrix(1.0752,0,0,1,503.45,394.69)" font-family='"Liberation Serif", serif' font-size="15.421" stroke="#000" stroke-width="0.22" stroke-linejoin="round">16.7</text>
<text transform="matrix(1.0068,0,0,1,646.03,394.69)" font-family='"Liberation Serif", serif' font-size="15.421" stroke="#000" stroke-width="0.22" stroke-linejoin="round">20.5</text>
<text transform="matrix(1.0426,0,0,1,126.62,612.42)" font-family='"Liberation Serif", serif' font-size="17.309" stroke="#000" stroke-width="0.22" stroke-linejoin="round">7.0</text>
<text transform="matrix(1.0178,0,0,1,198.14,612.42)" font-family='"Liberation Serif", serif' font-size="17.309" stroke="#000" stroke-width="0.22" stroke-linejoin="round">8.0</text>
<text transform="matrix(1.0128,0,0,1,269.95,612.42)" font-family='"Liberation Serif", serif' font-size="17.309" stroke="#000" stroke-width="0.22" stroke-linejoin="round">9.0</text>
<text transform="matrix(1.0203,0,0,1,336.96,612.42)" font-family='"Liberation Serif", serif' font-size="17.309" stroke="#000" stroke-width="0.22" stroke-linejoin="round">10.0</text>
<text transform="matrix(1.0174,0,0,1,434.66,612.64)" font-family='"Liberation Serif", serif' font-size="15.679" stroke="#000" stroke-width="0.22" stroke-linejoin="round">7.0</text>
<text transform="matrix(1.0150,0,0,1,506.60,612.64)" font-family='"Liberation Serif", serif' font-size="15.679" stroke="#000" stroke-width="0.22" stroke-linejoin="round">8.0</text>
<text transform="matrix(1.0045,0,0,1,578.90,612.64)" font-family='"Liberation Serif", serif' font-size="15.679" stroke="#000" stroke-width="0.22" stroke-linejoin="round">9.0</text>
<text transform="matrix(1.0007,0,0,1,646.63,612.64)" font-family='"Liberation Serif", serif' font-size="15.679" stroke="#000" stroke-width="0.22" stroke-linejoin="round">10.0</text>
<g transform="matrix(1.0000,0,0,1,76.64,438.95)"><text font-family='"Liberation Sans", sans-serif' font-size="15.254">0.5</text></g>
<g transform="matrix(1.0000,0,0,1,76.44,510.35)"><text font-family='"Liberation Sans", sans-serif' font-size="15.254">0.4</text></g>
<g transform="matrix(1.0000,0,0,1,76.67,581.75)"><text font-family='"Liberation Sans", sans-serif' font-size="15.254">0.3</text></g>
<g transform="matrix(1.0000,0,0,1,383.34,439.25)"><text font-family='"Liberation Sans", sans-serif' font-size="15.254">0.5</text></g>
<g transform="matrix(1.0000,0,0,1,383.14,511.00)"><text font-family='"Liberation Sans", sans-serif' font-size="15.254">0.4</text></g>
<g transform="matrix(1.0000,0,0,1,383.37,582.75)"><text font-family='"Liberation Sans", sans-serif' font-size="15.254">0.3</text></g>
<text transform="matrix(0,-0.8379,1,0,61.10,589.31)" font-family='"Liberation Serif", serif' font-size="23.824" font-weight="bold" stroke="#000" stroke-width="0.4" stroke-linejoin="round">T</text>
<text transform="matrix(0,-1.0521,1,0,60.78,575.25)" font-family='"Liberation Serif", serif' font-size="23.775" font-weight="bold" stroke="#000" stroke-width="0.4" stroke-linejoin="round">e</text>
<text transform="matrix(0,-1.0211,1,0,64.91,562.10)" font-family='"Liberation Serif", serif' font-size="29.920" font-weight="bold" stroke="#000" stroke-width="0.4" stroke-linejoin="round">/</text>
<text transform="matrix(0,-0.8115,1,0,61.10,551.50)" font-family='"Liberation Serif", serif' font-size="23.824" font-weight="bold" fill="#0000ff" stroke="#0000ff" stroke-width="0.4" stroke-linejoin="round">T</text>
<text transform="matrix(0,-0.5220,1,0,61.10,536.17)" font-family='"Liberation Serif", serif' font-size="23.824" font-weight="bold" fill="#0000ff" stroke="#0000ff" stroke-width="0.4" stroke-linejoin="round">i</text>
<text transform="matrix(0,-0.8379,1,0,61.10,529.81)" font-family='"Liberation Serif", serif' font-size="23.824" font-weight="bold" fill="#0000ff" stroke="#0000ff" stroke-width="0.4" stroke-linejoin="round">T</text>
<text transform="matrix(0,-1.1190,1,0,60.78,515.62)" font-family='"Liberation Serif", serif' font-size="23.984" font-weight="bold" fill="#0000ff" stroke="#0000ff" stroke-width="0.4" stroke-linejoin="round">e</text>
<text transform="matrix(0,-1.0664,1,0,60.86,498.18)" font-family='"Liberation Serif", serif' font-size="23.758" stroke="#000" stroke-width="0.22" stroke-linejoin="round">area ratio</text>
</svg>
</body></html>
